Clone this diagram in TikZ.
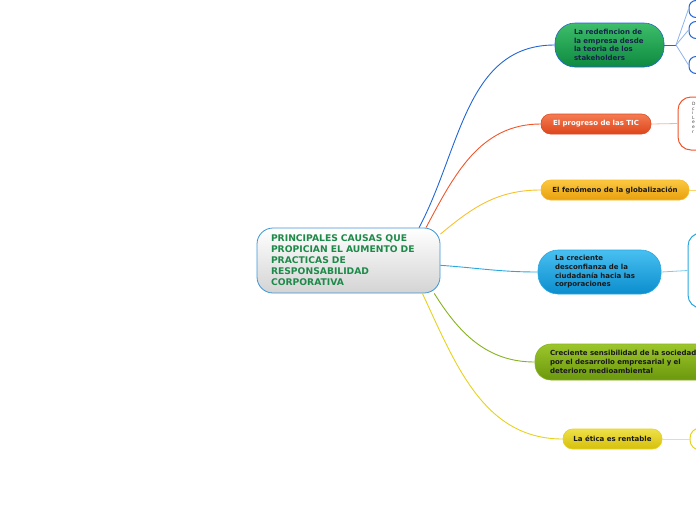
\documentclass[tikz,border=0pt]{standalone}
\usepackage{fontspec}
\setsansfont{DejaVu Sans}
\usetikzlibrary{positioning}
\definecolor{mapgreen}{HTML}{1E8A4A}
\definecolor{mapnavy}{HTML}{14244A}
\definecolor{rootline}{HTML}{3C95D6}
\definecolor{brblue}{HTML}{2266D4}
\definecolor{brred}{HTML}{F0562A}
\definecolor{brorange}{HTML}{F8C12C}
\definecolor{brsky}{HTML}{29A8E0}
\definecolor{brolive}{HTML}{86B31E}
\definecolor{bryellow}{HTML}{E6D21C}
\definecolor{greentop}{HTML}{3DBE6A}
\definecolor{greenbot}{HTML}{0E8A3F}
\definecolor{redtop}{HTML}{F47C52}
\definecolor{redbot}{HTML}{DE451B}
\definecolor{orangetop}{HTML}{FBC841}
\definecolor{orangebot}{HTML}{E9A00C}
\definecolor{skytop}{HTML}{48BFF1}
\definecolor{skybot}{HTML}{0B8ECE}
\definecolor{olivetop}{HTML}{9CC62B}
\definecolor{olivebot}{HTML}{6B980D}
\definecolor{yellowtop}{HTML}{EEE148}
\definecolor{yellowbot}{HTML}{D6BF0C}
\tikzset{
  x=1pt, y=-1pt,
  root/.style={
    draw=rootline,
    line width=0.8pt,
    rounded corners=16pt,
    top color=white,
    bottom color=black!17,
    align=left,
    font=\sffamily\bfseries\fontsize{9.2}{11}\selectfont,
    text=mapgreen,
    minimum width=183pt,
    minimum height=65pt,
    text width=155pt,
    inner xsep=14pt
  },
  topic/.style={
    line width=0.6pt,
    top color=#1top,
    bottom color=#1bot,
    align=left,
    font=\sffamily\bfseries\fontsize{7}{8.7}\selectfont,
    text=black!90
  },
  pill/.style={
    rounded corners=9.5pt,
    minimum height=20pt,
    align=center,
    inner sep=0pt
  },
  wide/.style={
    rounded corners=20pt,
    inner sep=0pt
  },
  leaf/.style={
    draw=#1,
    line width=1pt,
    fill=white,
    inner sep=0pt
  },
  branch/.style={
    draw=#1,
    line width=0.9pt
  },
  twig/.style={
    draw=#1,
    line width=0.8pt
  }
}
\begin{document}
\begin{tikzpicture}
\useasboundingbox (0,0) rectangle (696,520);
\clip (0,0) rectangle (696,520);

\node[root] (central) at (348.5,260.5)
  {PRINCIPALES CAUSAS QUE\\PROPICIAN EL AUMENTO DE\\PRACTICAS DE\\RESPONSABILIDAD\\CORPORATIVA};

% ramas principales
\node[topic=green, wide, draw=brblue, text=mapnavy,
  minimum width=109pt, minimum height=44pt, text width=71pt] (redef) at (609.5,45)
  {La redefincion de\\la empresa desde\\la teoria de los\\stakeholders};

\node[topic=red, pill, draw=brred!90!black, minimum width=110pt, text=white] (tic) at (596,124)
  {El progreso de las TIC};

\node[topic=orange, pill, draw=brorange!90!orange, minimum width=148pt] (glob) at (615,190)
  {El fenómeno de la globalización};

\node[topic=sky, wide, draw=brsky, minimum width=123pt, minimum height=44pt,
  text width=89pt] (desconf) at (599.5,272)
  {La creciente\\desconfianza de la\\ciudadanía hacia las\\corporaciones};

\node[topic=olive, draw=brolive, rounded corners=16pt, minimum width=190pt,
  minimum height=36pt, text width=160pt, inner sep=0pt] (sensib) at (630,362)
  {Creciente sensibilidad de la sociedad\\por el desarrollo empresarial y el\\deterioro medioambiental};

\node[topic=yellow, pill, draw=bryellow, minimum width=99pt] (etica) at (612.5,439)
  {La ética es rentable};

% hojas (cortadas por el borde)
\coordinate (fork) at (676,45);
\node[leaf=brblue, rounded corners=7pt, minimum width=40pt, minimum height=17pt] (stake1) at (709,9) {};
\node[leaf=brblue, rounded corners=7pt, minimum width=40pt, minimum height=17pt] (stake2) at (709,30) {};
\node[leaf=brblue, rounded corners=7pt, minimum width=40pt, minimum height=17pt] (stake3) at (709,65) {};

\node[leaf=brred, rounded corners=13pt, minimum width=60pt, minimum height=53pt] (ticleaf) at (708,123.5) {};
\node[font=\sffamily\fontsize{4.4}{4.6}\selectfont, text=black!75, align=left, inner sep=0pt, anchor=north west]
  (tictext) at (692,102) {D\\c\\i\\L\\e\\e\\r};

\coordinate (globend) at (700,190);

\node[leaf=brsky, rounded corners=13pt, minimum width=60pt, minimum height=75pt] (desconfleaf) at (718,270.5) {};

\node[leaf=bryellow, rounded corners=10pt, minimum width=40pt, minimum height=22pt] (eticaleaf) at (710,439) {};

% conectores
\draw[branch=brblue] (central.25) to[out=62,in=180] (redef.west);
\draw[branch=brred] (central.23) to[out=62,in=180] (tic.west);
\draw[branch=brorange] (central.16) to[out=40,in=180] (glob.west);
\draw[branch=brsky] (central.-3) to[out=-4,in=180] (desconf.west);
\draw[branch=brolive] (central.-21) to[out=-58,in=180] (sensib.west);
\draw[branch=bryellow] (central.-24) to[out=-65,in=180] (etica.west);

\draw[twig=brblue] (redef.east) -- (fork);
\draw[twig=brblue!50] (fork) -- (stake1.west);
\draw[twig=brblue!50] (fork) -- (stake2.west);
\draw[twig=brblue!50] (fork) -- (stake3.west);
\draw[twig=brred!45] (tic.east) -- (ticleaf.west);
\draw[twig=brorange!70] (glob.east) -- (globend);
\draw[twig=brsky!60] (desconf.east) -- (desconfleaf.west);
\draw[twig=bryellow!60] (etica.east) -- (eticaleaf.west);

\end{tikzpicture}
\end{document}
